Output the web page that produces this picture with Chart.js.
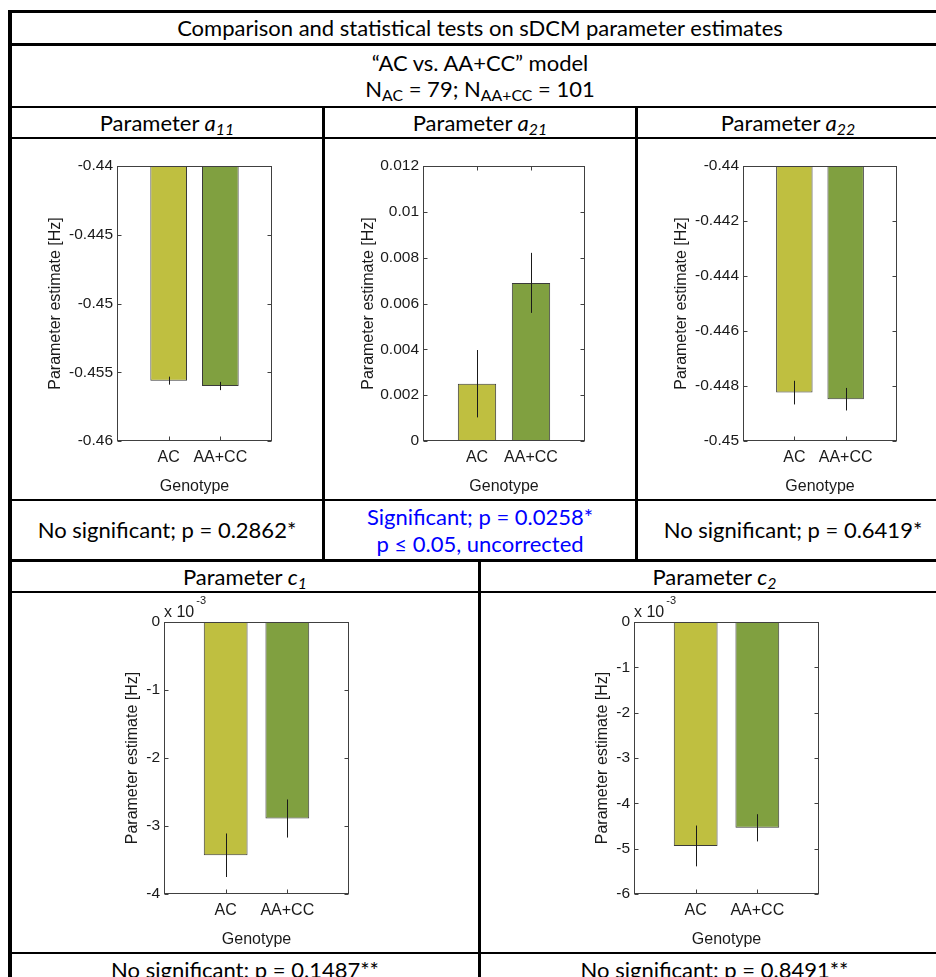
<!DOCTYPE html>
<html>
<head>
<meta charset="utf-8">
<script src="https://cdn.jsdelivr.net/npm/chart.js@4.4.0/dist/chart.umd.min.js"></script>
<style>
html, body { margin: 0; padding: 0; background: #fff; }
body { width: 936px; height: 977px; overflow: hidden; position: relative; font-family: Lato, "Open Sans", sans-serif; }
.hl, .vl { position: absolute; background: #000; }
.cell { position: absolute; display: flex; flex-direction: column; align-items: center; justify-content: center;
        font-size: 22px; line-height: 26px; color: #000; white-space: nowrap; }
.cell.two { line-height: 27px; }
.blue { color: #0000ff; }
sub { font-size: 0.72em; vertical-align: -0.28em; line-height: 0; }
canvas { position: absolute; }
</style>
</head>
<body>

<!-- table rules -->
<div class="hl" style="left:8px; top:10px; width:940px; height:3px"></div>
<div class="hl" style="left:8px; top:43px; width:940px; height:3px"></div>
<div class="hl" style="left:8px; top:106px; width:940px; height:2px"></div>
<div class="hl" style="left:8px; top:137px; width:940px; height:2px"></div>
<div class="hl" style="left:8px; top:499px; width:940px; height:2px"></div>
<div class="hl" style="left:8px; top:559px; width:940px; height:3px"></div>
<div class="hl" style="left:8px; top:591px; width:940px; height:2px"></div>
<div class="hl" style="left:8px; top:952px; width:940px; height:2px"></div>
<div class="vl" style="left:8px; top:10px; width:4px; height:967px"></div>
<div class="vl" style="left:322px; top:106px; width:3px; height:456px"></div>
<div class="vl" style="left:635px; top:106px; width:3px; height:456px"></div>
<div class="vl" style="left:478px; top:559px; width:3px; height:418px"></div>

<!-- table text -->
<div class="cell" style="left:12px; width:936px; top:13px; height:30px">Comparison and statistical tests on sDCM parameter estimates</div>
<div class="cell" style="left:12px; width:936px; top:46px; height:60px">
  <div>“AC vs. AA+CC” model</div>
  <div>N<sub>AC</sub> = 79; N<sub>AA+CC</sub> = 101</div>
</div>
<div class="cell" style="left:12px; width:310px; top:108px; height:29px">
  <div>Parameter <i>a<sub>11</sub></i></div></div>
<div class="cell" style="left:325px; width:310px; top:108px; height:29px">
  <div>Parameter <i>a<sub>21</sub></i></div></div>
<div class="cell" style="left:638px; width:300px; top:108px; height:29px">
  <div>Parameter <i>a<sub>22</sub></i></div></div>

<div class="cell" style="left:12px; width:310px; top:501px; height:58px">No significant; p = 0.2862*</div>
<div class="cell two blue" style="left:325px; width:310px; top:501px; height:58px">
  <div>Significant; p = 0.0258*</div>
  <div>p ≤ 0.05, uncorrected</div>
</div>
<div class="cell" style="left:638px; width:310px; top:501px; height:58px">No significant; p = 0.6419*</div>

<div class="cell" style="left:12px; width:466px; top:562px; height:29px">
  <div>Parameter <i>c<sub>1</sub></i></div></div>
<div class="cell" style="left:481px; width:467px; top:562px; height:29px">
  <div>Parameter <i>c<sub>2</sub></i></div></div>

<div class="cell" style="left:12px; width:466px; top:954px; height:32px">No significant; p = 0.1487**</div>
<div class="cell" style="left:481px; width:467px; top:954px; height:32px">No significant; p = 0.8491**</div>

<!-- bar charts -->
<canvas id="chartA11" width="310" height="360" style="left:12px; top:139px"></canvas>
<canvas id="chartA21" width="310" height="360" style="left:325px; top:139px"></canvas>
<canvas id="chartA22" width="298" height="360" style="left:638px; top:139px"></canvas>
<canvas id="chartC1" width="466" height="359" style="left:12px; top:593px"></canvas>
<canvas id="chartC2" width="455" height="359" style="left:481px; top:593px"></canvas>

<script>
var genotypes = ['AC', 'AA+CC'];
var barColors = ['#bfbf40', '#80a040'];

var a11Mean = [-0.45561, -0.45600];
var a11Sem = [0.00029, 0.00030];
var a11Ticks = [-0.46, -0.455, -0.45, -0.445, -0.44];

var a21Mean = [0.0025, 0.0069];
var a21Sem = [0.00147, 0.00131];
var a21Ticks = [0, 0.002, 0.004, 0.006, 0.008, 0.01, 0.012];

var a22Mean = [-0.44824, -0.44848];
var a22Sem = [0.00043, 0.00041];
var a22Ticks = [-0.45, -0.448, -0.446, -0.444, -0.442, -0.44];

var c1Mean = [-0.00343, -0.00289];
var c1Sem = [0.00032, 0.00028];
var c1Ticks = [-0.004, -0.003, -0.002, -0.001, 0];
var c1Exp = -3;

var c2Mean = [-0.00494, -0.00454];
var c2Sem = [0.00045, 0.00030];
var c2Ticks = [-0.006, -0.005, -0.004, -0.003, -0.002, -0.001, 0];
var c2Exp = -3;

var axisFont = "'Liberation Sans', Arial, sans-serif";
Chart.defaults.font.family = axisFont;
Chart.defaults.font.size = 15;
Chart.defaults.color = '#1a1a1a';

function fmtTick(v) {
  return String(parseFloat(v.toPrecision(6)));
}

// matlab style box, inward ticks, error bars and the x10^n multiplier
var axesPlugin = {
  id: 'matlabAxes',
  beforeDatasetsDraw: function (chart) {
    var ctx = chart.ctx, a = chart.chartArea;
    var xs = chart.scales.x, ys = chart.scales.y;
    var L = Math.round(a.left) + 0.5, R = Math.round(a.right) - 0.5;
    var T = Math.round(a.top) + 0.5, B = Math.round(a.bottom) - 0.5;
    ctx.save();
    ctx.strokeStyle = '#404040';
    ctx.lineWidth = 1;
    ctx.beginPath();
    ys.ticks.forEach(function (t) {
      var y = Math.round(ys.getPixelForValue(t.value)) + 0.5;
      ctx.moveTo(L, y); ctx.lineTo(L + 4, y);
      ctx.moveTo(R, y); ctx.lineTo(R - 4, y);
    });
    xs.ticks.forEach(function (t) {
      var x = Math.round(xs.getPixelForValue(t.value)) + 0.5;
      ctx.moveTo(x, B); ctx.lineTo(x, B - 4);
      ctx.moveTo(x, T); ctx.lineTo(x, T + 4);
    });
    ctx.stroke();
    ctx.restore();
  },
  afterDatasetsDraw: function (chart, args, opts) {
    var ctx = chart.ctx, a = chart.chartArea;
    var ys = chart.scales.y;
    var ds = chart.data.datasets[0];
    var meta = chart.getDatasetMeta(0);

    ctx.save();
    ctx.beginPath();
    ctx.rect(a.left, a.top, a.right - a.left, a.bottom - a.top);
    ctx.clip();
    ctx.strokeStyle = '#1a1a1a';
    ctx.lineWidth = 1;
    ctx.beginPath();
    ds.data.forEach(function (p, i) {
      var x = Math.round(meta.data[i].x) + 0.5;
      ctx.moveTo(x, ys.getPixelForValue(p.y - ds.errors[i]));
      ctx.lineTo(x, ys.getPixelForValue(p.y + ds.errors[i]));
    });
    ctx.stroke();
    ctx.restore();

    var L = Math.round(a.left) + 0.5, R = Math.round(a.right) - 0.5;
    var T = Math.round(a.top) + 0.5, B = Math.round(a.bottom) - 0.5;
    ctx.save();
    ctx.strokeStyle = '#404040';
    ctx.lineWidth = 1;
    ctx.strokeRect(L, T, R - L, B - T);
    ctx.restore();

    if (opts.exponent) {
      ctx.save();
      ctx.fillStyle = '#1a1a1a';
      ctx.textAlign = 'left';
      ctx.textBaseline = 'middle';
      ctx.font = '16px ' + axisFont;
      ctx.fillText('x 10', a.left, a.top - 9);
      var w = ctx.measureText('x 10').width;
      ctx.font = '11px ' + axisFont;
      ctx.fillText(String(opts.exponent), a.left + w + 2, a.top - 21);
      ctx.restore();
    }
  }
};

function makeChart(id, mean, sem, yTicks, exp, lay) {
  var f = Math.pow(10, exp || 0);
  return new Chart(document.getElementById(id), {
    type: 'bar',
    data: {
      datasets: [{
        data: mean.map(function (v, i) { return { x: i + 1, y: v }; }),
        errors: sem,
        backgroundColor: barColors,
        borderColor: '#3a3a3a',
        borderWidth: 1,
        barPercentage: 0.71,
        categoryPercentage: 1,
        clip: 0
      }]
    },
    options: {
      responsive: false,
      animation: false,
      devicePixelRatio: 1,
      layout: { padding: { left: 0, top: lay.top, right: lay.right, bottom: 0 } },
      plugins: {
        legend: { display: false },
        tooltip: { enabled: false },
        matlabAxes: { exponent: exp || 0 }
      },
      scales: {
        x: {
          type: 'linear',
          min: 0,
          max: genotypes.length + 1,
          offset: false,
          grid: { display: false, drawTicks: false },
          border: { display: false },
          afterBuildTicks: function (s) {
            s.ticks = genotypes.map(function (g, i) { return { value: i + 1 }; });
          },
          ticks: {
            autoSkip: false,
            maxRotation: 0,
            padding: 7,
            font: { size: 16 },
            callback: function (v) { return genotypes[v - 1]; }
          },
          title: { display: true, text: 'Genotype', font: { size: 16 }, padding: { top: 0, bottom: 3 } },
          afterFit: function (s) { s.height = lay.xh; }
        },
        y: {
          min: yTicks[0],
          max: yTicks[yTicks.length - 1],
          grid: { display: false, drawTicks: false },
          border: { display: false },
          afterBuildTicks: function (s) {
            s.ticks = yTicks.map(function (v) { return { value: v }; });
          },
          ticks: {
            padding: 4,
            font: { size: 15.5 },
            callback: function (v) { return fmtTick(v / f); }
          },
          title: { display: true, text: 'Parameter estimate [Hz]', font: { size: 16 }, padding: { top: lay.tp, bottom: 0 } },
          afterFit: function (s) { s.width = lay.yw; }
        }
      }
    },
    plugins: [axesPlugin]
  });
}

makeChart('chartA11', a11Mean, a11Sem, a11Ticks, 0, { top: 27, right: 50, yw: 105, xh: 58, tp: 34 });
makeChart('chartA21', a21Mean, a21Sem, a21Ticks, 0, { top: 27, right: 50, yw: 98, xh: 58, tp: 34 });
makeChart('chartA22', a22Mean, a22Sem, a22Ticks, 0, { top: 27, right: 39, yw: 105, xh: 58, tp: 34 });
makeChart('chartC1', c1Mean, c1Sem, c1Ticks, c1Exp, { top: 29, right: 129, yw: 152, xh: 58, tp: 111 });
makeChart('chartC2', c2Mean, c2Sem, c2Ticks, c2Exp, { top: 29, right: 117, yw: 153, xh: 58, tp: 112 });
</script>
</body>
</html>
